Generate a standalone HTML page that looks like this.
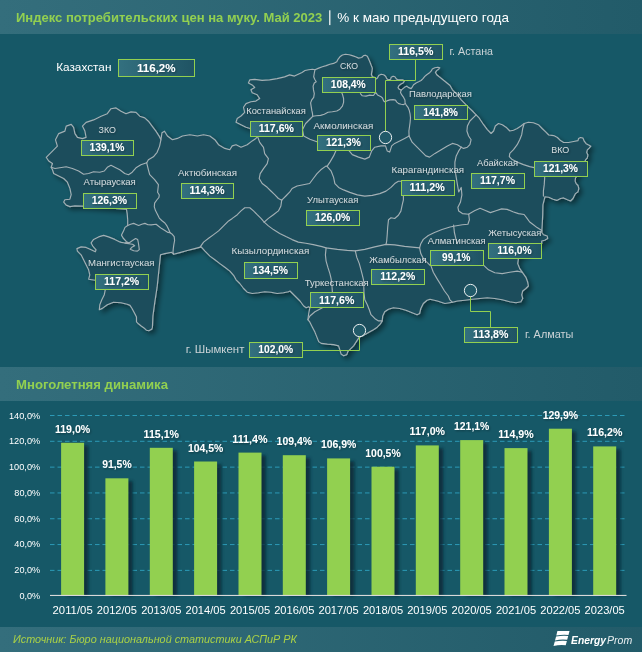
<!DOCTYPE html>
<html lang="ru"><head><meta charset="utf-8"><title>Индекс потребительских цен на муку</title>
<style>
html,body{margin:0;padding:0;background:#165867;}
body{width:642px;height:652px;overflow:hidden;font-family:"Liberation Sans",sans-serif;}
svg{display:block;}
text{font-family:"Liberation Sans",sans-serif;}
</style></head><body>
<svg width="642" height="652" viewBox="0 0 642 652">
<defs>
<linearGradient id="band" x1="0" x2="1" y1="0" y2="0"><stop offset="0" stop-color="#346E7C"/><stop offset="1" stop-color="#225B69"/></linearGradient>
<linearGradient id="lbl" x1="0" x2="1" y1="0" y2="0"><stop offset="0" stop-color="#33707F"/><stop offset="1" stop-color="#1F5363"/></linearGradient>
<filter id="mapsh" x="-5%" y="-5%" width="112%" height="112%"><feGaussianBlur in="SourceAlpha" stdDeviation="2.6"/><feOffset dx="3" dy="3.2"/><feComponentTransfer><feFuncA type="linear" slope="0.44"/></feComponentTransfer><feMerge><feMergeNode/><feMergeNode in="SourceGraphic"/></feMerge></filter>
<filter id="nf" x="-5%" y="-40%" width="110%" height="180%"><feOffset dx="0" dy="0"/></filter>
<filter id="barsh" x="-30%" y="-5%" width="170%" height="110%"><feGaussianBlur stdDeviation="1.7"/></filter>
<filter id="tsh" x="-10%" y="-30%" width="120%" height="170%"><feGaussianBlur in="SourceAlpha" stdDeviation="0.8"/><feOffset dx="0.6" dy="0.8"/><feComponentTransfer><feFuncA type="linear" slope="0.35"/></feComponentTransfer><feMerge><feMergeNode/><feMergeNode in="SourceGraphic"/></feMerge></filter>
</defs>
<rect width="642" height="652" fill="#165867"/>
<rect x="0" y="0" width="642" height="34" fill="url(#band)"/>
<rect x="0" y="367" width="642" height="34" fill="url(#band)"/>
<rect x="0" y="627" width="642" height="25" fill="url(#band)"/>

<text filter="url(#nf)" x="16" y="22.3" font-size="12.6" font-weight="bold" fill="#92D050" textLength="306.3" lengthAdjust="spacingAndGlyphs">Индекс потребительских цен на муку. Май 2023</text>
<rect x="329.2" y="10.3" width="1.2" height="14.8" fill="#ffffff"/>
<text filter="url(#nf)" x="337.3" y="22.3" font-size="12.6" fill="#ffffff" textLength="171.7" lengthAdjust="spacingAndGlyphs">% к маю предыдущего года</text>
<text filter="url(#nf)" x="16" y="389.1" font-size="12.6" font-weight="bold" fill="#92D050" textLength="152" lengthAdjust="spacingAndGlyphs">Многолетняя динамика</text>
<text filter="url(#nf)" x="13" y="642.9" font-size="10.6" font-style="italic" fill="#A9D046" textLength="284" lengthAdjust="spacingAndGlyphs">Источник: Бюро национальной статистики АСПиР РК</text>
<g filter="url(#mapsh)"><path d="M46.2 157.3 L51.2 152.3 L57.4 146.1 L55.5 139.8 L58.7 133.6 L64.9 131.1 L66.2 126.1 L71.2 124.4 L73.6 127.4 L74.9 133.6 L77.4 137.4 L82.4 138.6 L86.1 137.4 L84.9 131.1 L82.4 126.1 L86.1 122.4 L93.6 119.9 L101.1 116.2 L107.3 113.7 L111.0 108.7 L116.0 107.9 L121.0 111.2 L126.0 113.7 L131.0 111.9 L136.0 112.4 L139.7 116.2 L144.7 117.9 L148.4 121.2 L152.1 126.1 L155.9 131.1 L159.1 136.1 L160.9 139.8 L162.0 132.7 L164.5 131.2 L167.4 136.0 L172.4 139.7 L177.4 138.4 L182.4 136.0 L189.9 134.7 L197.4 136.0 L203.6 134.7 L209.8 136.0 L214.8 139.7 L218.5 144.7 L224.8 148.4 L229.8 149.7 L232.2 145.9 L236.0 144.7 L241.0 147.2 L247.2 144.7 L252.2 140.9 L255.9 138.4 L257.7 136.7 L250.2 128.5 L246.0 127.2 L241.0 124.7 L236.0 122.2 L237.2 118.5 L241.0 116.0 L244.7 112.3 L243.5 107.3 L246.0 103.6 L250.9 101.8 L255.9 101.1 L259.7 98.6 L257.2 94.8 L252.2 92.8 L250.9 89.8 L254.7 87.4 L252.2 84.9 L248.4 82.9 L249.7 79.9 L254.7 79.4 L262.1 80.4 L269.6 79.9 L277.1 78.6 L284.6 76.9 L289.6 74.9 L294.5 76.1 L302.0 72.4 L305.0 70.5 L308.7 69.7 L312.5 69.3 L315.0 69.7 L318.7 68.1 L322.4 66.8 L326.2 65.6 L329.9 64.3 L333.6 63.4 L336.8 61.8 L338.0 59.3 L339.9 56.8 L342.4 55.0 L345.5 54.3 L349.2 54.7 L352.3 55.6 L355.5 56.8 L358.6 58.1 L361.7 57.5 L363.6 55.6 L365.4 55.2 L367.3 56.2 L368.5 58.7 L369.8 61.8 L371.0 64.9 L372.3 68.1 L372.0 71.2 L371.3 74.3 L372.3 76.8 L374.8 77.6 L375.6 79.3 L377.5 78.1 L378.7 75.6 L381.2 74.3 L383.7 74.7 L385.6 76.2 L386.8 78.7 L388.7 79.9 L390.6 79.3 L391.2 77.2 L393.1 76.2 L394.9 76.8 L396.2 78.7 L398.0 79.9 L400.5 79.7 L403.0 79.9 L404.3 81.2 L403.0 83.0 L400.5 84.3 L398.7 85.9 L398.0 87.6 L399.3 89.3 L401.2 90.1 L403.0 88.6 L404.9 87.1 L406.8 86.2 L408.6 87.6 L411.1 88.6 L412.4 86.8 L413.6 84.7 L416.1 83.0 L418.6 81.8 L421.1 80.5 L423.0 78.7 L424.8 76.4 L426.7 74.7 L429.2 73.1 L431.1 71.2 L432.3 69.0 L434.8 67.7 L437.9 67.2 L439.8 67.7 L438.5 69.3 L436.7 70.6 L435.4 72.4 L436.7 74.7 L439.2 76.8 L441.7 78.7 L444.8 81.2 L447.9 83.7 L450.0 85.5 L452.4 89.8 L457.4 94.8 L461.2 99.8 L464.9 103.6 L468.6 107.3 L472.4 111.0 L476.1 114.8 L478.6 117.3 L481.1 121.0 L483.6 124.7 L487.3 129.7 L491.1 133.5 L493.6 131.0 L495.3 126.0 L498.5 123.5 L502.3 124.7 L506.0 127.2 L509.8 131.0 L513.5 130.2 L517.2 128.5 L521.0 126.0 L524.2 123.5 L528.4 122.2 L533.4 122.7 L538.4 124.7 L542.1 128.5 L545.9 132.2 L548.7 135.0 L553.7 135.6 L557.4 137.5 L560.5 140.6 L563.6 142.5 L568.6 142.5 L573.6 141.5 L578.0 140.6 L578.6 138.5 L580.5 137.5 L583.0 138.1 L584.2 141.2 L586.1 143.7 L588.6 145.0 L590.8 146.2 L589.2 148.1 L587.3 149.9 L586.7 152.4 L587.9 154.9 L587.3 158.0 L585.5 159.9 L585.5 160.0 L582.0 168.0 L577.0 176.0 L575.5 178.0 L575.1 181.1 L576.1 183.6 L578.0 185.5 L578.8 188.6 L578.0 191.7 L575.5 193.6 L574.2 196.0 L573.0 198.5 L570.5 201.0 L567.4 199.8 L563.6 197.9 L560.5 198.5 L556.8 200.4 L553.1 199.2 L548.7 197.3 L545.0 196.7 L542.9 204.8 L542.7 214.8 L542.2 224.8 L541.7 232.2 L543.4 234.7 L547.2 236.0 L547.7 238.5 L544.7 240.2 L541.7 241.0 L541.7 243.7 L518.4 258.6 L517.7 263.6 L519.7 268.6 L522.7 272.8 L525.9 277.3 L527.7 282.3 L528.4 286.0 L525.9 288.5 L522.7 291.0 L521.7 294.8 L522.7 298.5 L520.9 301.7 L516.0 302.7 L509.7 301.7 L502.2 299.8 L494.8 298.5 L487.3 297.8 L479.8 298.5 L472.3 299.3 L464.9 300.2 L457.4 301.0 L452.4 302.2 L444.9 303.5 L437.4 301.0 L430.0 299.3 L427.1 300.2 L423.3 303.5 L420.8 308.5 L419.6 313.5 L417.1 314.7 L412.1 312.7 L405.9 310.2 L399.7 308.5 L393.4 307.7 L388.4 309.2 L384.7 311.7 L382.7 316.0 L382.2 320.9 L380.2 324.2 L377.2 327.2 L373.5 329.7 L369.8 331.7 L366.0 334.1 L362.3 335.9 L359.3 337.1 L356.0 342.1 L353.6 345.9 L349.8 349.6 L347.8 351.6 L346.8 354.6 L343.6 355.8 L341.1 354.1 L339.8 349.6 L338.6 345.9 L333.6 344.6 L327.4 344.1 L321.2 343.4 L318.7 341.6 L316.9 337.1 L314.9 332.1 L312.4 327.2 L309.9 322.2 L307.9 319.7 L308.7 313.5 L309.9 307.7 L308.7 306.7 L306.2 307.7 L303.7 306.0 L300.0 301.0 L295.0 296.0 L290.0 291.0 L288.4 291.7 L283.5 292.7 L277.2 293.5 L271.0 292.2 L264.8 291.7 L258.5 292.7 L252.3 293.5 L247.3 292.2 L243.6 288.5 L239.8 283.5 L236.1 279.8 L233.6 275.3 L229.9 271.1 L224.9 267.3 L219.9 263.6 L214.9 259.8 L209.9 256.1 L205.0 251.1 L201.2 246.9 L194.8 248.6 L187.3 250.5 L179.8 252.6 L173.6 254.2 L171.7 252.3 L164.9 253.6 L160.5 254.8 L157.1 287.2 L154.8 302.1 L152.9 316.2 L152.4 327.4 L151.7 329.3 L148.7 330.7 L146.4 330.2 L144.0 327.9 L141.2 326.0 L138.4 323.8 L136.5 321.8 L136.5 317.1 L134.7 313.4 L131.9 308.2 L130.0 305.4 L127.2 304.2 L121.0 302.7 L113.5 302.2 L107.3 304.7 L102.3 308.4 L99.3 309.7 L99.8 304.7 L101.8 299.7 L104.3 294.7 L105.3 289.7 L95.3 280.2 L88.6 279.3 L89.8 274.8 L88.6 269.8 L86.1 264.8 L83.6 259.8 L81.1 254.8 L77.4 251.1 L76.9 248.6 L81.1 246.9 L86.1 247.4 L91.1 249.8 L95.3 251.8 L96.1 249.8 L92.8 246.1 L91.1 242.9 L93.6 239.4 L98.6 236.9 L103.6 235.4 L108.5 236.9 L114.8 239.4 L119.8 241.9 L121.2 242.4 L125.0 243.0 L127.5 242.4 L126.2 241.4 L123.1 238.0 L121.5 235.1 L123.5 231.1 L125.0 227.4 L127.7 225.5 L127.7 219.9 L127.2 213.7 L126.5 209.3 L126.0 209.1 L82.4 206.1 L74.9 205.9 L69.9 206.6 L66.2 205.1 L63.7 202.1 L64.9 199.7 L69.9 199.2 L71.2 194.7 L69.9 188.4 L67.4 182.2 L63.7 178.5 L58.7 176.0 L53.7 173.5 L52.5 169.8 L51.2 167.3 L52.5 163.5 L48.7 161.0 Z" fill="#1D4E5C" stroke="#A3B0B5" stroke-width="1.15" stroke-linejoin="round"/></g>
<g fill="none" stroke="#A3B0B5" stroke-width="1.15" stroke-linejoin="round" stroke-linecap="round">
<path d="M51.2 167.3 L55.0 168.5 L59.9 167.8 L66.2 166.8 L72.4 168.5 L78.6 171.0 L83.6 174.2 L88.6 173.5 L93.6 171.7 L99.8 172.2 L104.3 171.0 L107.3 167.3 L111.0 165.3 L114.8 167.3 L119.8 169.8 L124.7 173.5 L128.5 174.7 L132.2 172.2 L136.0 167.8 L140.9 164.8 L146.7 162.8"/>
<path d="M160.9 139.8 L159.6 146.1 L157.1 152.3 L153.4 156.8 L148.4 159.8 L146.7 162.8"/>
<path d="M146.7 162.8 L148.4 169.8 L149.7 174.7 L154.6 179.7 L158.4 184.7 L157.6 192.2 L159.3 195.0 L158.9 197.5 L156.8 200.0 L154.6 203.1 L154.3 206.8 L155.5 210.6 L157.4 214.3 L159.3 218.1 L161.7 220.5 L164.9 223.0 L167.1 226.2 L168.6 229.3 L170.1 232.8 L172.3 234.3 L174.2 236.7 L174.6 240.5 L173.8 244.8 L173.3 248.6 L173.0 252.3 L173.6 254.2"/>
<path d="M127.5 242.4 L129.0 242.9 L132.5 240.6 L135.6 238.6 L137.7 239.6 L138.4 243.0 L138.9 246.7 L139.3 249.6 L137.4 251.1 L133.7 250.7 L130.2 249.2 L131.8 247.3 L134.7 245.8 L132.5 244.3 L128.7 243.7 L125.0 243.1"/>
<path d="M127.7 225.5 L130.6 224.3 L133.7 223.4 L136.8 224.7 L138.7 225.5 L141.8 224.3 L144.9 223.4 L148.0 224.7 L151.2 224.9 L156.1 224.3 L158.6 226.2 L161.7 228.6 L164.9 230.5 L168.0 232.4 L170.1 232.8"/>
<path d="M257.7 136.9 L259.7 142.4 L263.5 147.4 L264.7 153.6 L268.4 158.6 L267.2 163.6 L263.5 168.6 L260.2 173.6 L259.2 178.5 L262.2 183.5 L267.2 187.3 L270.9 191.0 L274.7 194.7 L278.4 198.5 L281.7 200.2"/>
<path d="M281.7 200.2 L285.9 196.0 L289.6 192.2 L292.1 188.5 L297.1 186.0 L303.3 184.8 L309.6 183.5 L313.3 178.5 L317.0 173.6 L320.8 169.8 L325.8 166.1 L326.9 166.2"/>
<path d="M327.4 165.9 L329.9 162.1 L333.6 155.9 L336.1 150.2"/>
<path d="M326.9 166.2 L331.2 171.2 L333.6 177.4 L334.9 183.6 L338.6 187.4 L343.6 189.9 L349.8 192.4 L357.3 194.9 L364.8 196.1 L372.3 195.4 L379.8 193.6 L386.0 191.1 L391.0 187.4 L394.7 183.6 L398.4 181.2 L401.7 181.2"/>
<path d="M403.4 195.4 L403.4 199.8 L402.2 204.8 L400.9 211.1 L398.4 215.3 L394.7 218.5 L391.0 217.8 L388.5 219.8 L387.7 227.3 L387.2 234.7 L386.7 241.0 L386.0 244.7"/>
<path d="M281.7 200.2 L280.9 206.0 L278.4 210.9 L273.4 214.7 L268.4 218.4 L264.2 222.1"/>
<path d="M264.2 222.1 L261.0 218.4 L257.2 214.7 L253.5 210.9 L249.8 207.7 L244.8 207.7 L241.0 210.9 L237.3 214.7 L232.3 218.4 L228.6 220.9 L223.6 225.9 L218.6 230.9 L213.6 234.6 L208.6 238.3 L203.6 242.1 L200.4 246.6"/>
<path d="M264.2 222.1 L268.4 225.9 L273.4 229.6 L279.7 233.4 L285.9 236.6 L292.1 239.6 L298.3 242.1 L305.8 243.3 L313.3 244.6 L322.0 246.6 L326.1 247.9 L337.4 249.4 L347.3 250.4 L355.3 250.9 L364.8 249.4 L374.7 246.9 L386.0 244.4 L394.7 244.9 L404.6 246.4 L414.6 247.4 L419.6 247.9 L420.8 243.7 L423.3 239.4 L428.3 235.5 L434.5 232.5 L442.0 229.5 L450.0 227.0 L455.0 226.0 L462.4 224.8 L467.9 224.3 L469.4 219.8 L468.7 214.3"/>
<path d="M461.2 147.2 L458.7 150.9 L456.2 155.9 L454.9 162.1 L454.9 169.6 L456.2 177.1 L457.4 184.5 L458.7 192.0 L461.2 187.4 L461.9 194.9 L460.4 202.3 L457.9 207.3 L458.7 211.1 L462.4 213.6 L468.7 214.3"/>
<path d="M476.1 114.8 L473.6 117.3 L469.9 121.0 L467.4 126.0 L466.9 131.0 L468.6 136.0 L471.1 139.7 L469.9 144.7 L467.4 147.2 L463.6 148.4 L461.2 147.2"/>
<path d="M461.2 147.2 L457.4 144.7 L452.4 143.4 L447.4 145.9 L441.2 149.7 L435.0 153.4 L429.6 157.1 L425.8 155.9 L422.1 152.1 L417.1 147.2 L412.1 142.2 L409.1 136.0"/>
<path d="M401.2 90.1 L400.5 92.4 L401.8 94.9 L403.6 97.4 L404.9 99.9 L405.1 103.0 L406.1 104.8 L408.0 107.3 L409.3 110.5 L410.1 114.2 L410.5 117.9 L410.1 122.3 L409.6 126.0 L408.9 131.0 L409.1 136.0"/>
<path d="M409.1 136.0 L404.6 138.4 L399.7 140.9 L394.7 143.4 L391.7 145.9 L389.7 152.1 L387.2 150.9 L385.5 145.9 L381.0 145.9 L374.7 147.2 L371.7 150.9 L369.3 157.1 L364.8 159.1 L358.5 157.1 L352.3 154.6 L348.6 150.2"/>
<path d="M312.7 116.3 L316.2 115.8 L320.6 115.4 L324.3 114.2 L328.0 112.3 L332.4 111.7 L336.8 111.0 L339.9 109.2 L342.4 106.1 L343.6 102.3 L343.6 98.6 L342.6 94.8 L341.7 92.6"/>
<path d="M360.4 93.6 L362.3 95.8 L366.0 96.1 L369.8 95.1 L373.5 95.5 L375.6 92.4 L377.5 94.9 L380.6 96.4 L382.5 98.0 L383.7 101.1 L385.2 102.1 L386.8 100.9 L389.9 99.9 L393.1 99.6 L395.5 100.1 L396.8 102.1 L398.7 103.6 L401.2 104.2 L403.6 104.6 L405.1 103.8"/>
<path d="M315.0 69.7 L314.3 73.0 L313.7 76.8 L314.7 79.3 L316.2 81.8 L314.3 83.0 L313.1 86.1 L313.5 89.9 L314.3 93.6 L313.7 97.3 L311.8 99.8 L310.6 102.9 L311.2 106.7 L311.8 110.4 L312.5 113.5 L312.7 116.3"/>
<path d="M312.7 116.3 L310.6 118.5 L308.1 121.0 L305.6 123.5 L302.5 129.7 L303.7 136.0 L309.9 139.2 L316.9 141.7"/>
<path d="M524.2 123.5 L522.7 128.5 L521.7 134.7 L519.7 139.7 L517.2 144.7 L513.5 149.7 L509.8 153.4 L509.3 156.6 L512.2 159.6 L517.2 162.1 L523.5 164.6 L529.7 166.6 L534.2 167.6"/>
<path d="M544.7 177.4 L544.2 184.9 L543.4 191.1 L543.4 196.1"/>
<path d="M468.9 213.9 L474.5 210.7 L480.1 208.3 L484.8 210.2 L490.4 212.6 L496.0 210.7 L501.6 208.9 L507.2 209.4 L512.9 211.7 L518.5 213.6 L524.1 214.5 L526.9 218.2 L529.7 222.0 L533.4 224.8 L537.1 227.6 L541.8 230.4 L541.7 232.2"/>
<path d="M453.6 225.0 L454.4 232.5 L456.1 239.9 L457.4 243.7"/>
<path d="M484.0 265.6 L488.5 269.8 L494.8 272.8 L502.2 273.6 L509.7 272.3 L517.2 271.1 L522.2 272.3"/>
<path d="M419.6 247.9 L420.8 253.6 L423.3 258.6 L427.1 262.4 L430.1 265.4"/>
<path d="M430.8 265.4 L433.3 272.3 L437.0 278.6 L440.8 284.8 L444.5 291.0 L448.3 296.0 L449.9 299.8 L452.4 302.2"/>
<path d="M326.1 247.9 L325.4 254.9 L326.1 261.1 L327.9 267.4 L329.9 273.6 L331.1 278.6 L331.9 284.8 L332.4 292.8"/>
<path d="M322.4 307.7 L314.9 311.7 L309.9 316.0 L307.9 319.7"/>
<path d="M355.3 250.9 L356.8 257.4 L359.3 263.6 L361.0 269.8 L362.3 274.8 L363.5 279.8 L364.0 292.8 L364.8 299.8 L367.3 304.7 L369.3 309.7 L371.0 314.7 L374.7 318.4 L378.5 320.9 L382.2 320.9"/>
</g>
<g fill="none" stroke="#92D050" stroke-width="1">
<path d="M415.5 59.4 V80.5 H385.5 V131.3"/>
<path d="M302.9 350.5 H359.5 V336.6"/>
<path d="M470.5 296.6 V311.5 H490.5 V327.1"/>
</g>
<g fill="#215A69" stroke="#EDF1F2" stroke-width="1">
<circle cx="385.5" cy="137.5" r="6.15"/><circle cx="359.5" cy="330.5" r="6.15"/><circle cx="470.5" cy="290.5" r="6.15"/>
</g>
<g font-size="9.2" fill="#D3DADD" filter="url(#tsh)">
<text x="98.6" y="132.9" textLength="17.4" lengthAdjust="spacingAndGlyphs">ЗКО</text>
<text x="83.5" y="184.8" textLength="52.3" lengthAdjust="spacingAndGlyphs">Атырауская</text>
<text x="88.1" y="265.9" textLength="66.4" lengthAdjust="spacingAndGlyphs">Мангистауская</text>
<text x="246.2" y="113.7" textLength="59.6" lengthAdjust="spacingAndGlyphs">Костанайская</text>
<text x="178.1" y="175.9" textLength="58.9" lengthAdjust="spacingAndGlyphs">Актюбинская</text>
<text x="339.9" y="69.3" textLength="18.1" lengthAdjust="spacingAndGlyphs">СКО</text>
<text x="408.9" y="97.0" textLength="63.0" lengthAdjust="spacingAndGlyphs">Павлодарская</text>
<text x="313.5" y="128.7" textLength="59.8" lengthAdjust="spacingAndGlyphs">Акмолинская</text>
<text x="391.5" y="173.0" textLength="72.6" lengthAdjust="spacingAndGlyphs">Карагандинская</text>
<text x="477.0" y="165.9" textLength="41.1" lengthAdjust="spacingAndGlyphs">Абайская</text>
<text x="551.2" y="152.8" textLength="18.1" lengthAdjust="spacingAndGlyphs">ВКО</text>
<text x="488.2" y="235.6" textLength="53.1" lengthAdjust="spacingAndGlyphs">Жетысуская</text>
<text x="427.8" y="243.5" textLength="57.9" lengthAdjust="spacingAndGlyphs">Алматинская</text>
<text x="307.1" y="202.7" textLength="51.2" lengthAdjust="spacingAndGlyphs">Улытауская</text>
<text x="369.2" y="262.9" textLength="57.4" lengthAdjust="spacingAndGlyphs">Жамбылская</text>
<text x="304.7" y="285.7" textLength="64.1" lengthAdjust="spacingAndGlyphs">Туркестанская</text>
<text x="231.6" y="253.8" textLength="77.6" lengthAdjust="spacingAndGlyphs">Кызылординская</text>
</g>
<g font-size="11.2" fill="#CBD3D6" filter="url(#nf)">
<text x="449.5" y="54.6" textLength="43.5" lengthAdjust="spacingAndGlyphs">г. Астана</text>
<text x="185.7" y="353.0" textLength="58.7" lengthAdjust="spacingAndGlyphs">г. Шымкент</text>
<text x="524.9" y="337.8" textLength="48.6" lengthAdjust="spacingAndGlyphs">г. Алматы</text>
</g>
<text filter="url(#nf)" x="56.2" y="70.6" font-size="11.8" fill="#ffffff" textLength="55.2" lengthAdjust="spacingAndGlyphs">Казахстан</text>
<g>
<rect x="118.5" y="59.5" width="76" height="17" fill="url(#lbl)" stroke="#92D050" stroke-width="1"/>
<rect x="81.5" y="140.5" width="52" height="15" fill="url(#lbl)" stroke="#92D050" stroke-width="1"/>
<rect x="83.5" y="193.5" width="53" height="15" fill="url(#lbl)" stroke="#92D050" stroke-width="1"/>
<rect x="95.5" y="274.5" width="53" height="15" fill="url(#lbl)" stroke="#92D050" stroke-width="1"/>
<rect x="250.5" y="121.5" width="52" height="15" fill="url(#lbl)" stroke="#92D050" stroke-width="1"/>
<rect x="181.5" y="183.5" width="52" height="15" fill="url(#lbl)" stroke="#92D050" stroke-width="1"/>
<rect x="389.5" y="44.5" width="53" height="15" fill="url(#lbl)" stroke="#92D050" stroke-width="1"/>
<rect x="322.5" y="77.5" width="53" height="15" fill="url(#lbl)" stroke="#92D050" stroke-width="1"/>
<rect x="414.5" y="105.5" width="53" height="14" fill="url(#lbl)" stroke="#92D050" stroke-width="1"/>
<rect x="317.5" y="135.5" width="53" height="15" fill="url(#lbl)" stroke="#92D050" stroke-width="1"/>
<rect x="401.5" y="180.5" width="53" height="15" fill="url(#lbl)" stroke="#92D050" stroke-width="1"/>
<rect x="471.5" y="173.5" width="53" height="15" fill="url(#lbl)" stroke="#92D050" stroke-width="1"/>
<rect x="534.5" y="161.5" width="53" height="15" fill="url(#lbl)" stroke="#92D050" stroke-width="1"/>
<rect x="488.5" y="243.5" width="53" height="15" fill="url(#lbl)" stroke="#92D050" stroke-width="1"/>
<rect x="430.5" y="250.5" width="53" height="15" fill="url(#lbl)" stroke="#92D050" stroke-width="1"/>
<rect x="306.5" y="210.5" width="53" height="15" fill="url(#lbl)" stroke="#92D050" stroke-width="1"/>
<rect x="371.5" y="269.5" width="53" height="15" fill="url(#lbl)" stroke="#92D050" stroke-width="1"/>
<rect x="310.5" y="292.5" width="53" height="15" fill="url(#lbl)" stroke="#92D050" stroke-width="1"/>
<rect x="244.5" y="262.5" width="53" height="16" fill="url(#lbl)" stroke="#92D050" stroke-width="1"/>
<rect x="249.5" y="342.5" width="53" height="15" fill="url(#lbl)" stroke="#92D050" stroke-width="1"/>
<rect x="464.5" y="327.5" width="53" height="15" fill="url(#lbl)" stroke="#92D050" stroke-width="1"/>
</g>
<g font-size="10.5" font-weight="bold" fill="#ffffff" filter="url(#tsh)">
<text x="137.0" y="72.0" textLength="38.6" lengthAdjust="spacingAndGlyphs">116,2%</text>
<text x="89.6" y="150.9" textLength="34.9" lengthAdjust="spacingAndGlyphs">139,1%</text>
<text x="91.7" y="203.8" textLength="35.3" lengthAdjust="spacingAndGlyphs">126,3%</text>
<text x="104.0" y="284.6" textLength="35.2" lengthAdjust="spacingAndGlyphs">117,2%</text>
<text x="258.7" y="131.8" textLength="35.2" lengthAdjust="spacingAndGlyphs">117,6%</text>
<text x="189.6" y="193.9" textLength="34.9" lengthAdjust="spacingAndGlyphs">114,3%</text>
<text x="398.0" y="54.6" textLength="35.3" lengthAdjust="spacingAndGlyphs">116,5%</text>
<text x="330.8" y="88.0" textLength="34.9" lengthAdjust="spacingAndGlyphs">108,4%</text>
<text x="423.2" y="115.7" textLength="34.8" lengthAdjust="spacingAndGlyphs">141,8%</text>
<text x="325.9" y="146.1" textLength="34.9" lengthAdjust="spacingAndGlyphs">121,3%</text>
<text x="409.6" y="190.8" textLength="35.2" lengthAdjust="spacingAndGlyphs">111,2%</text>
<text x="479.9" y="184.0" textLength="35.1" lengthAdjust="spacingAndGlyphs">117,7%</text>
<text x="543.1" y="172.4" textLength="34.9" lengthAdjust="spacingAndGlyphs">121,3%</text>
<text x="497.3" y="253.7" textLength="34.5" lengthAdjust="spacingAndGlyphs">116,0%</text>
<text x="442.1" y="260.8" textLength="28.4" lengthAdjust="spacingAndGlyphs">99,1%</text>
<text x="314.9" y="220.8" textLength="35.3" lengthAdjust="spacingAndGlyphs">126,0%</text>
<text x="380.3" y="280.3" textLength="34.9" lengthAdjust="spacingAndGlyphs">112,2%</text>
<text x="319.0" y="303.5" textLength="35.3" lengthAdjust="spacingAndGlyphs">117,6%</text>
<text x="252.8" y="273.8" textLength="35.2" lengthAdjust="spacingAndGlyphs">134,5%</text>
<text x="258.3" y="353.0" textLength="34.8" lengthAdjust="spacingAndGlyphs">102,0%</text>
<text x="473.1" y="337.8" textLength="35.3" lengthAdjust="spacingAndGlyphs">113,8%</text>
</g>
<g stroke="#2C9AB7" stroke-width="1" stroke-dasharray="4.5 3">
<line x1="50.0" x2="626.5" y1="570.39" y2="570.39"/>
<line x1="50.0" x2="626.5" y1="544.57" y2="544.57"/>
<line x1="50.0" x2="626.5" y1="518.76" y2="518.76"/>
<line x1="50.0" x2="626.5" y1="492.94" y2="492.94"/>
<line x1="50.0" x2="626.5" y1="467.13" y2="467.13"/>
<line x1="50.0" x2="626.5" y1="441.31" y2="441.31"/>
<line x1="50.0" x2="626.5" y1="415.50" y2="415.50"/>
</g>
<g font-size="9.8" fill="#ffffff" filter="url(#nf)">
<text x="19.4" y="598.6" textLength="20.8" lengthAdjust="spacingAndGlyphs">0,0%</text>
<text x="14.3" y="573.0" textLength="25.9" lengthAdjust="spacingAndGlyphs">20,0%</text>
<text x="14.3" y="547.3" textLength="25.9" lengthAdjust="spacingAndGlyphs">40,0%</text>
<text x="14.3" y="521.7" textLength="25.9" lengthAdjust="spacingAndGlyphs">60,0%</text>
<text x="14.3" y="496.0" textLength="25.9" lengthAdjust="spacingAndGlyphs">80,0%</text>
<text x="9.0" y="470.1" textLength="31.2" lengthAdjust="spacingAndGlyphs">100,0%</text>
<text x="9.0" y="444.0" textLength="31.2" lengthAdjust="spacingAndGlyphs">120,0%</text>
<text x="9.0" y="419.0" textLength="31.2" lengthAdjust="spacingAndGlyphs">140,0%</text>
</g>
<g fill="#072834" opacity="0.8" filter="url(#barsh)">
<rect x="67.1" y="445.6" width="21.4" height="150.6"/>
<rect x="111.4" y="481.1" width="21.4" height="115.1"/>
<rect x="155.8" y="450.6" width="21.4" height="145.6"/>
<rect x="200.1" y="464.3" width="21.4" height="131.9"/>
<rect x="244.5" y="455.4" width="21.4" height="140.8"/>
<rect x="288.8" y="458.0" width="21.4" height="138.2"/>
<rect x="333.1" y="461.2" width="21.4" height="135.0"/>
<rect x="377.5" y="469.5" width="21.4" height="126.7"/>
<rect x="421.8" y="448.2" width="21.4" height="148.0"/>
<rect x="466.2" y="442.9" width="21.4" height="153.3"/>
<rect x="510.5" y="450.9" width="21.4" height="145.3"/>
<rect x="554.9" y="431.5" width="21.4" height="164.7"/>
<rect x="599.2" y="449.2" width="21.4" height="147.0"/>
</g>
<g fill="#92D050">
<rect x="61.1" y="442.8" width="23.0" height="152.7"/>
<rect x="105.4" y="478.3" width="23.0" height="117.2"/>
<rect x="149.8" y="447.8" width="23.0" height="147.7"/>
<rect x="194.1" y="461.5" width="23.0" height="134.0"/>
<rect x="238.5" y="452.6" width="23.0" height="142.9"/>
<rect x="282.8" y="455.2" width="23.0" height="140.3"/>
<rect x="327.1" y="458.4" width="23.0" height="137.1"/>
<rect x="371.5" y="466.7" width="23.0" height="128.8"/>
<rect x="415.8" y="445.4" width="23.0" height="150.1"/>
<rect x="460.2" y="440.1" width="23.0" height="155.4"/>
<rect x="504.5" y="448.1" width="23.0" height="147.4"/>
<rect x="548.9" y="428.7" width="23.0" height="166.8"/>
<rect x="593.2" y="446.4" width="23.0" height="149.1"/>
</g>
<rect x="50.0" y="594.9" width="576.5" height="1.1" fill="#D9D9D9"/>
<g font-size="10.6" font-weight="bold" fill="#ffffff" text-anchor="middle" filter="url(#tsh)">
<text x="72.6" y="432.8" textLength="35.4" lengthAdjust="spacingAndGlyphs">119,0%</text>
<text x="116.9" y="468.3" textLength="29.5" lengthAdjust="spacingAndGlyphs">91,5%</text>
<text x="161.3" y="437.8" textLength="35.4" lengthAdjust="spacingAndGlyphs">115,1%</text>
<text x="205.6" y="451.5" textLength="35.4" lengthAdjust="spacingAndGlyphs">104,5%</text>
<text x="250.0" y="442.6" textLength="35.4" lengthAdjust="spacingAndGlyphs">111,4%</text>
<text x="294.3" y="445.2" textLength="35.4" lengthAdjust="spacingAndGlyphs">109,4%</text>
<text x="338.6" y="448.4" textLength="35.4" lengthAdjust="spacingAndGlyphs">106,9%</text>
<text x="383.0" y="456.7" textLength="35.4" lengthAdjust="spacingAndGlyphs">100,5%</text>
<text x="427.3" y="435.4" textLength="35.4" lengthAdjust="spacingAndGlyphs">117,0%</text>
<text x="471.7" y="430.1" textLength="35.4" lengthAdjust="spacingAndGlyphs">121,1%</text>
<text x="516.0" y="438.1" textLength="35.4" lengthAdjust="spacingAndGlyphs">114,9%</text>
<text x="560.4" y="418.7" textLength="35.4" lengthAdjust="spacingAndGlyphs">129,9%</text>
<text x="604.7" y="436.4" textLength="35.4" lengthAdjust="spacingAndGlyphs">116,2%</text>
</g>
<g font-size="11.2" fill="#ffffff" text-anchor="middle" filter="url(#nf)">
<text x="72.6" y="613.9" textLength="40.2" lengthAdjust="spacingAndGlyphs">2011/05</text>
<text x="116.9" y="613.9" textLength="40.2" lengthAdjust="spacingAndGlyphs">2012/05</text>
<text x="161.3" y="613.9" textLength="40.2" lengthAdjust="spacingAndGlyphs">2013/05</text>
<text x="205.6" y="613.9" textLength="40.2" lengthAdjust="spacingAndGlyphs">2014/05</text>
<text x="250.0" y="613.9" textLength="40.2" lengthAdjust="spacingAndGlyphs">2015/05</text>
<text x="294.3" y="613.9" textLength="40.2" lengthAdjust="spacingAndGlyphs">2016/05</text>
<text x="338.6" y="613.9" textLength="40.2" lengthAdjust="spacingAndGlyphs">2017/05</text>
<text x="383.0" y="613.9" textLength="40.2" lengthAdjust="spacingAndGlyphs">2018/05</text>
<text x="427.3" y="613.9" textLength="40.2" lengthAdjust="spacingAndGlyphs">2019/05</text>
<text x="471.7" y="613.9" textLength="40.2" lengthAdjust="spacingAndGlyphs">2020/05</text>
<text x="516.0" y="613.9" textLength="40.2" lengthAdjust="spacingAndGlyphs">2021/05</text>
<text x="560.4" y="613.9" textLength="40.2" lengthAdjust="spacingAndGlyphs">2022/05</text>
<text x="604.7" y="613.9" textLength="40.2" lengthAdjust="spacingAndGlyphs">2023/05</text>
</g>
<g fill="#ffffff">
<path d="M557.4 631.1 L569.5 631.1 L568.5 634.9 Q562.5 634.2 556.3 635.5 Z"/>
<path d="M556.1 636.6 Q562.3 635.3 568.2 636 L567.2 639.8 Q561.2 639.1 555 640.4 Z"/>
<path d="M554.8 641.5 Q561 640.2 566.9 640.9 L565.7 645.3 Q559.8 644.6 553.5 646 Z"/>
</g>
<text filter="url(#nf)" x="571" y="643.9" font-size="10.5" font-style="italic" font-weight="bold" fill="#ffffff" textLength="35" lengthAdjust="spacingAndGlyphs">Energy</text>
<text filter="url(#nf)" x="607" y="643.9" font-size="10.5" font-style="italic" fill="#E8EEF0" textLength="25.2" lengthAdjust="spacingAndGlyphs">Prom</text>
</svg></body></html>
